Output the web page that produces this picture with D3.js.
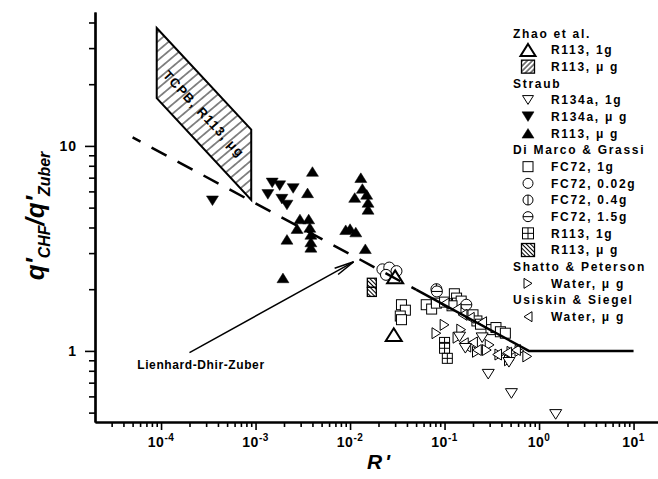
<!DOCTYPE html>
<html>
<head>
<meta charset="utf-8">
<script src="https://cdnjs.cloudflare.com/ajax/libs/d3/7.8.5/d3.min.js"></script>
<style>
  body { margin: 0; background: #fff; }
  svg { display: block; font-family: "Liberation Sans", Arial, sans-serif; }
</style>
</head>
<body>
<div id="chart"></div>
<script>
// Values: [R', q'CHF/q'Zuber]
const zhaoR113_1g = [[0.030, 2.3], [0.029, 1.2]];
const straubR134a_1g = [[0.144, 1.17], [0.25, 1.16], [0.166, 1.03], [0.48, 0.88], [0.29, 0.77], [0.51, 0.62], [1.5, 0.49]];
const straubR134a_ug = [[3.5e-4, 5.4], [1.5e-3, 6.6], [1.8e-3, 6.4], [2.5e-3, 6.2], [1.35e-3, 5.8], [1.9e-3, 5.5], [2.15e-3, 5.15]];
const straubR113_ug = [
    [1.95e-3, 2.27], [4.0e-3, 7.5], [3.55e-3, 5.9], [2.95e-3, 4.4], [3.65e-3, 4.4], [2.75e-3, 3.95],
    [3.75e-3, 4.0], [2.15e-3, 3.5], [3.85e-3, 3.7], [3.85e-3, 3.4], [3.85e-3, 3.2],
    [1.3e-2, 7.0], [1.35e-2, 6.2], [1.5e-2, 5.8], [1.12e-2, 5.6], [1.55e-2, 5.3], [1.55e-2, 4.9],
    [9.0e-3, 3.9], [1.0e-2, 3.95], [1.15e-2, 3.8], [1.45e-2, 3.15]
];
const dimarcoFC72_1g = [
    [3.5e-2, 1.68], [3.85e-2, 1.58], [3.4e-2, 1.48], [3.5e-2, 1.42], [6.4e-2, 1.68], [7.3e-2, 1.6],
    [8.2e-2, 1.71], [0.1, 1.73], [0.127, 1.9], [0.134, 1.81], [0.137, 1.71], [0.15, 1.75], [0.12, 1.66],
    [0.2, 1.5], [0.22, 1.4], [0.24, 1.35], [0.31, 1.27], [0.35, 1.3], [0.39, 1.24], [0.44, 1.22]
];
const dimarcoFC72_002g = [[2.2e-2, 2.5], [2.6e-2, 2.55], [3.1e-2, 2.45], [2.4e-2, 2.35]];
const dimarcoFC72_04g = [[8.2e-2, 2.0]];
const dimarcoFC72_15g = [[8.3e-2, 1.95], [0.17, 1.68]];
const dimarcoR113_1g = [[0.1, 1.1], [0.1, 1.03], [0.107, 0.92]];
const dimarcoR113_ug = [[1.7e-2, 2.15], [1.7e-2, 1.94]];
const shattoWater_ug = [
    [8.2e-2, 1.22], [0.1, 1.34], [0.15, 1.27], [0.137, 1.16], [0.3, 1.07], [0.22, 0.99],
    [0.28, 1.01], [0.51, 0.99], [0.48, 0.9], [0.75, 0.94], [0.62, 1.0], [0.38, 0.96]
];
const usiskinWater_ug = [
    [0.1, 1.7], [0.134, 1.6], [0.155, 1.5], [0.185, 1.45], [0.25, 1.38], [0.17, 1.05], [0.2, 1.1],
    [0.16, 1.09], [0.22, 1.01], [0.36, 0.96], [0.46, 0.98], [0.57, 1.01]
];

// Lienhard-Dhir-Zuber curve and TCPB band
const ldzDashed = [[5e-5, 11.0], [0.05, 1.99]];
const ldzSolid = [[0.05, 1.99], [0.78, 1.0], [10, 1.0]];
const tcpbBand = [[9e-5, 37.6], [9e-4, 12.0], [9e-4, 5.45], [9e-5, 17.1]];
const arrowFrom = [2.0e-4, 0.98];
const arrowTo = [1.09e-2, 2.72];
const annotationAt = [5.6e-5, 0.86];

// Axis ticks
const xTickValues = [1e-4, 1e-3, 1e-2, 1e-1, 1, 10];
const xTickExponents = ['-4', '-3', '-2', '-1', '0', '1'];
const yTickValues = [1, 10];
const yTickLabels = ['1', '10'];

const series = [
    { group: 'Zhao et al.', label: 'R113, 1g', marker: 'triUpBig', data: zhaoR113_1g },
    { group: 'Zhao et al.', label: 'R113, μ g', marker: 'hatchFwd', data: [] },
    { group: 'Straub', label: 'R134a, 1g', marker: 'triDown', data: straubR134a_1g },
    { group: 'Straub', label: 'R134a, μ g', marker: 'triDownFill', data: straubR134a_ug },
    { group: 'Straub', label: 'R113, μ g', marker: 'triUpFill', data: straubR113_ug },
    { group: 'Di Marco & Grassi', label: 'FC72, 1g', marker: 'square', data: dimarcoFC72_1g },
    { group: 'Di Marco & Grassi', label: 'FC72, 0.02g', marker: 'circle', data: dimarcoFC72_002g },
    { group: 'Di Marco & Grassi', label: 'FC72, 0.4g', marker: 'circleV', data: dimarcoFC72_04g },
    { group: 'Di Marco & Grassi', label: 'FC72, 1.5g', marker: 'circleH', data: dimarcoFC72_15g },
    { group: 'Di Marco & Grassi', label: 'R113, 1g', marker: 'squareGrid', data: dimarcoR113_1g },
    { group: 'Di Marco & Grassi', label: 'R113, μ g', marker: 'hatchBack', data: dimarcoR113_ug },
    { group: 'Shatto & Peterson', label: 'Water, μ g', marker: 'triRight', data: shattoWater_ug },
    { group: 'Usiskin & Siegel', label: 'Water, μ g', marker: 'triLeft', data: usiskinWater_ug }
];

const plotSize = { triUpBig: 16, hatchFwd: 12, triDown: 12, triDownFill: 12, triUpFill: 12, square: 10,
    circle: 11, circleV: 11, circleH: 11, squareGrid: 10, hatchBack: 9, triRight: 11, triLeft: 11 };
const legendSize = { triUpBig: 15, hatchFwd: 13, triDown: 11, triDownFill: 12, triUpFill: 12, square: 10,
    circle: 10, circleV: 10, circleH: 10, squareGrid: 11, hatchBack: 13, triRight: 10, triLeft: 10 };
const drawOrder = [3, 4, 5, 6, 7, 8, 9, 10, 11, 12, 2, 0];

const width = 658, height = 479;
const x = d3.scaleLog().domain([2e-5, 20]).range([95, 662]);
const y = d3.scaleLog().domain([0.45, 45]).range([422, 12]);

const svg = d3.select('#chart').append('svg')
    .attr('width', width)
    .attr('height', height);

const defs = svg.append('defs');
function hatchPattern(id, size, angle, sw) {
    const p = defs.append('pattern')
        .attr('id', id)
        .attr('patternUnits', 'userSpaceOnUse')
        .attr('width', size)
        .attr('height', size)
        .attr('patternTransform', `rotate(${angle})`);
    p.append('rect').attr('width', size).attr('height', size).attr('fill', 'white');
    p.append('line')
        .attr('x1', 0).attr('y1', size / 2).attr('x2', size).attr('y2', size / 2)
        .attr('stroke', 'black').attr('stroke-width', sw);
}
hatchPattern('hatchFwd', 3.6, -45, 1);
hatchPattern('hatchBack', 3.0, 45, 1);
hatchPattern('bandHatch', 7.2, -40, 0.9);

function drawMarker(g, type, cx, cy, s) {
    const h = s * 0.8;
    const tri = (pts, fill, sw) => g.append('path')
        .attr('d', 'M' + pts.map(p => `${cx + p[0]},${cy + p[1]}`).join('L') + 'Z')
        .attr('fill', fill).attr('stroke', 'black').attr('stroke-width', sw)
        .attr('stroke-linejoin', 'miter');
    switch (type) {
        case 'triUpBig':
            tri([[0, -h / 2], [s / 2, h / 2], [-s / 2, h / 2]], 'white', 2);
            break;
        case 'triUpFill':
            tri([[0, -h / 2], [s / 2, h / 2], [-s / 2, h / 2]], 'black', 0.5);
            break;
        case 'triDown':
            tri([[0, h / 2], [s / 2, -h / 2], [-s / 2, -h / 2]], 'white', 1);
            break;
        case 'triDownFill':
            tri([[0, h / 2], [s / 2, -h / 2], [-s / 2, -h / 2]], 'black', 0.5);
            break;
        case 'triRight':
            tri([[h / 2, 0], [-h / 2, -s / 2], [-h / 2, s / 2]], 'white', 1);
            break;
        case 'triLeft':
            tri([[-h / 2, 0], [h / 2, -s / 2], [h / 2, s / 2]], 'white', 1);
            break;
        case 'square':
        case 'squareGrid':
        case 'hatchFwd':
        case 'hatchBack': {
            const fill = type === 'hatchFwd' ? 'url(#hatchFwd)' : type === 'hatchBack' ? 'url(#hatchBack)' : 'white';
            g.append('rect')
                .attr('x', cx - s / 2).attr('y', cy - s / 2)
                .attr('width', s).attr('height', s)
                .attr('fill', fill).attr('stroke', 'black')
                .attr('stroke-width', type.startsWith('hatch') ? 1.3 : 1);
            if (type === 'squareGrid') {
                g.append('path')
                    .attr('d', `M${cx - s / 2},${cy}H${cx + s / 2}M${cx},${cy - s / 2}V${cy + s / 2}`)
                    .attr('stroke', 'black').attr('stroke-width', 1);
            }
            break;
        }
        default: {
            const r = s / 2;
            g.append('circle').attr('cx', cx).attr('cy', cy).attr('r', r)
                .attr('fill', 'white').attr('stroke', 'black').attr('stroke-width', 1);
            if (type === 'circleV') {
                g.append('line').attr('x1', cx).attr('x2', cx).attr('y1', cy - r).attr('y2', cy + r)
                    .attr('stroke', 'black').attr('stroke-width', 1);
            }
            if (type === 'circleH') {
                g.append('line').attr('x1', cx - r).attr('x2', cx + r).attr('y1', cy).attr('y2', cy)
                    .attr('stroke', 'black').attr('stroke-width', 1);
            }
        }
    }
}

// TCPB band
const bandLine = d3.line().x(d => x(d[0])).y(d => y(d[1]));
svg.append('path')
    .attr('d', bandLine(tcpbBand) + 'Z')
    .attr('fill', 'url(#bandHatch)')
    .attr('stroke', 'black')
    .attr('stroke-width', 2);

const bandCx = Math.sqrt(tcpbBand[0][0] * tcpbBand[1][0]);
const bandCy = Math.pow(tcpbBand[0][1] * tcpbBand[1][1] * tcpbBand[2][1] * tcpbBand[3][1], 0.25);
const bandAngle = Math.atan2(y(tcpbBand[1][1]) - y(tcpbBand[0][1]), x(tcpbBand[1][0]) - x(tcpbBand[0][0])) * 180 / Math.PI;
svg.append('text')
    .attr('transform', `translate(${x(bandCx)},${y(bandCy)}) rotate(${bandAngle})`)
    .attr('text-anchor', 'middle')
    .attr('dy', '0.35em')
    .attr('font-size', 13)
    .attr('font-weight', 'bold')
    .attr('letter-spacing', 1.2)
    .text('TCPB, R113, μg');

// data points
const pointLayer = svg.append('g');
drawOrder.forEach(i => {
    const s = series[i];
    s.data.forEach(d => drawMarker(pointLayer, s.marker, x(d[0]), y(d[1]), plotSize[s.marker]));
});

// Lienhard-Dhir-Zuber curve
svg.append('path')
    .attr('d', bandLine(ldzDashed))
    .attr('fill', 'none')
    .attr('stroke', 'black')
    .attr('stroke-width', 2.5)
    .attr('stroke-dasharray', '17,12.5')
    .attr('stroke-dashoffset', 8);
svg.append('path')
    .attr('d', bandLine(ldzSolid))
    .attr('fill', 'none')
    .attr('stroke', 'black')
    .attr('stroke-width', 2.5);

// annotation arrow
const ax1 = x(arrowFrom[0]), ay1 = y(arrowFrom[1]);
const ax2 = x(arrowTo[0]), ay2 = y(arrowTo[1]);
const ang = Math.atan2(ay2 - ay1, ax2 - ax1);
svg.append('line')
    .attr('x1', ax1).attr('y1', ay1).attr('x2', ax2).attr('y2', ay2)
    .attr('stroke', 'black').attr('stroke-width', 1.5);
[-0.18, 0.18].forEach(da => {
    svg.append('line')
        .attr('x1', ax2).attr('y1', ay2)
        .attr('x2', ax2 - 20 * Math.cos(ang + da))
        .attr('y2', ay2 - 20 * Math.sin(ang + da))
        .attr('stroke', 'black').attr('stroke-width', 1.5);
});
svg.append('text')
    .attr('x', x(annotationAt[0]))
    .attr('y', y(annotationAt[1]))
    .attr('dy', '0.35em')
    .attr('font-size', 12)
    .attr('font-weight', 'bold')
    .attr('letter-spacing', 0.6)
    .text('Lienhard-Dhir-Zuber');

// axes
const xMinor = [];
const yMinor = [];
for (let e = -5; e <= 1; e++) {
    for (let m = 2; m <= 9; m++) {
        const v = m * Math.pow(10, e);
        if (v > 2.1e-5 && v < 20) xMinor.push(v);
        if (v >= 0.5 && v <= 40) yMinor.push(v);
    }
}

const x0 = y.range()[0];
const y0 = x.range()[0];
function styleAxis(g) {
    g.select('.domain').attr('stroke-width', 2.2);
    g.selectAll('.tick line').attr('stroke-width', 1.6);
    g.selectAll('.tick text').remove();
}
svg.append('g').attr('transform', `translate(0,${x0})`)
    .call(d3.axisBottom(x).tickValues(xMinor).tickSize(5).tickSizeOuter(0).tickFormat(''))
    .call(styleAxis);
svg.append('g').attr('transform', `translate(0,${x0})`)
    .call(d3.axisBottom(x).tickValues(xTickValues).tickSize(8).tickSizeOuter(0).tickFormat(''))
    .call(styleAxis);
svg.append('g').attr('transform', `translate(${y0},0)`)
    .call(d3.axisLeft(y).tickValues(yMinor).tickSize(6).tickSizeOuter(0).tickFormat(''))
    .call(styleAxis);
svg.append('g').attr('transform', `translate(${y0},0)`)
    .call(d3.axisLeft(y).tickValues(yTickValues).tickSize(10).tickSizeOuter(0).tickFormat(''))
    .call(styleAxis);

xTickValues.forEach((v, i) => {
    const t = svg.append('text')
        .attr('x', x(v))
        .attr('y', 447)
        .attr('text-anchor', 'middle')
        .attr('font-weight', 'bold')
        .attr('font-size', 14)
        .attr('letter-spacing', 0.5);
    t.append('tspan').text('10');
    t.append('tspan').attr('dy', -6).attr('font-size', 10).text(xTickExponents[i]);
});
yTickValues.forEach((v, i) => {
    svg.append('text')
        .attr('x', 77)
        .attr('y', y(v))
        .attr('dy', '0.36em')
        .attr('text-anchor', 'end')
        .attr('font-weight', 'bold')
        .attr('font-size', 14)
        .attr('letter-spacing', 1)
        .text(yTickLabels[i]);
});

// axis titles
svg.append('text')
    .attr('x', 380)
    .attr('y', 469)
    .attr('text-anchor', 'middle')
    .attr('font-size', 21)
    .attr('font-weight', 'bold')
    .attr('font-style', 'italic')
    .attr('letter-spacing', 3)
    .text("R'");

const yTitle = svg.append('text')
    .attr('transform', 'translate(44,216) rotate(-90)')
    .attr('text-anchor', 'middle')
    .attr('font-weight', 'bold')
    .attr('font-style', 'italic')
    .attr('font-size', 26);
yTitle.append('tspan').text("q'");
yTitle.append('tspan').attr('font-size', 16).attr('dy', 6).text('CHF');
yTitle.append('tspan').attr('dy', -6).text("/q'");
yTitle.append('tspan').attr('font-size', 16).attr('dy', 6).text('Zuber');

// legend
const legend = svg.append('g');
let row = 0;
let lastGroup = null;
const rowY = i => 33.3 + 16.67 * i;
series.forEach(s => {
    if (s.group !== lastGroup) {
        legend.append('text')
            .attr('x', 513).attr('y', rowY(row)).attr('dy', '0.35em')
            .attr('font-size', 12).attr('font-weight', 'bold').attr('letter-spacing', 1.7)
            .text(s.group);
        lastGroup = s.group;
        row++;
    }
    drawMarker(legend, s.marker, 528, rowY(row), legendSize[s.marker]);
    legend.append('text')
        .attr('x', 551).attr('y', rowY(row)).attr('dy', '0.35em')
        .attr('font-size', 12).attr('font-weight', 'bold').attr('letter-spacing', 1.7)
        .text(s.label);
    row++;
});
</script>
</body>
</html>
